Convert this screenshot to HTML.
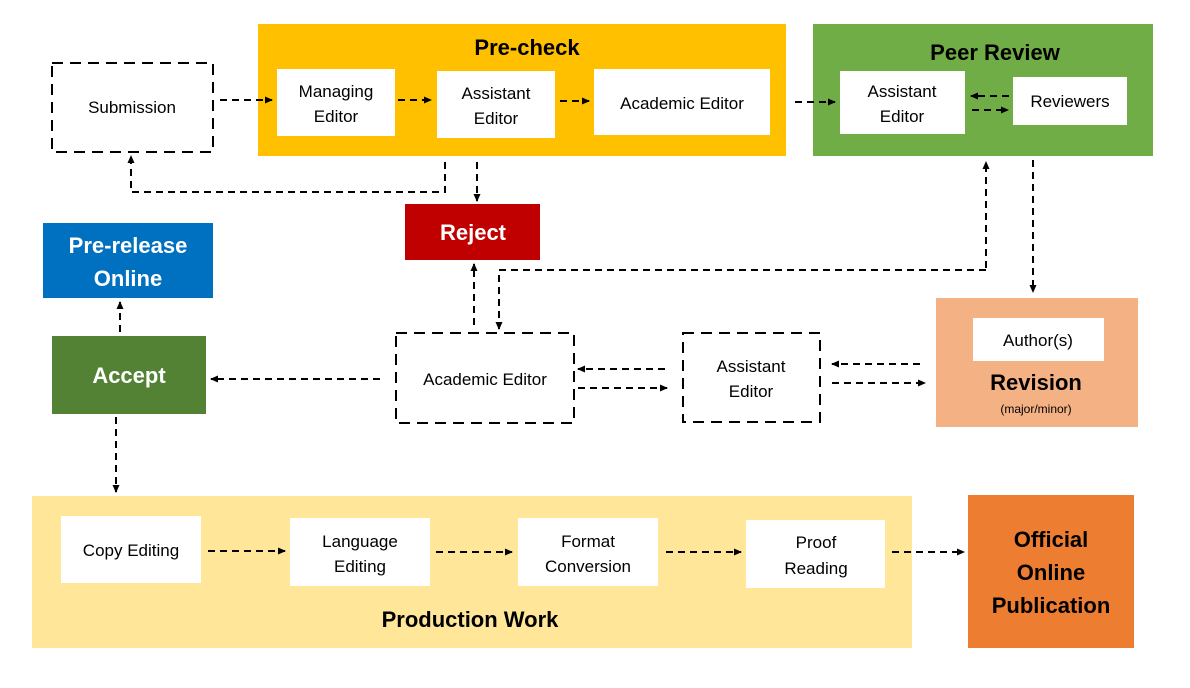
<!DOCTYPE html>
<html><head><meta charset="utf-8"><style>
html,body{margin:0;padding:0;background:#fff;}
svg{display:block;font-family:"Liberation Sans",sans-serif;}
.t{font-size:17px;fill:#000;text-anchor:middle;}
.b{font-weight:bold;text-anchor:middle;}
.d{stroke:#000;stroke-width:2;stroke-dasharray:7,5;fill:none;}
.bx{stroke:#000;stroke-width:2;stroke-dasharray:11,7;fill:#fff;}
</style></head><body>
<svg width="1190" height="688" viewBox="0 0 1190 688">
<defs><marker id="a" markerWidth="8" markerHeight="8" refX="7" refY="4" orient="auto" markerUnits="userSpaceOnUse"><path d="M0,0.5 L8,4 L0,7.5z" fill="#000"/></marker></defs>
<rect x="258" y="24" width="528" height="132" fill="#FFC000"/>
<text x="527" y="55" class="b" font-size="22">Pre-check</text>
<rect x="813" y="24" width="340" height="132" fill="#70AD47"/>
<text x="995" y="60" class="b" font-size="22">Peer Review</text>
<rect x="32" y="496" width="880" height="152" fill="#FFE699"/>
<text x="470" y="627" class="b" font-size="22">Production Work</text>
<rect x="936" y="298" width="202" height="129" fill="#F4B183"/>
<text x="1036" y="390" class="b" font-size="22">Revision</text>
<text x="1036" y="413" class="t" style="font-size:12px">(major/minor)</text>
<rect x="405" y="204" width="135" height="56" fill="#C00000"/>
<text x="473" y="240" class="b" font-size="22" fill="#fff">Reject</text>
<rect x="43" y="223" width="170" height="75" fill="#0070C0"/>
<text x="128" y="253" class="b" font-size="22" fill="#fff">Pre-release</text>
<text x="128" y="286" class="b" font-size="22" fill="#fff">Online</text>
<rect x="52" y="336" width="154" height="78" fill="#548235"/>
<text x="129" y="383" class="b" font-size="22" fill="#fff">Accept</text>
<rect x="968" y="495" width="166" height="153" fill="#ED7D31"/>
<text x="1051" y="547" class="b" font-size="22">Official</text>
<text x="1051" y="580" class="b" font-size="22">Online</text>
<text x="1051" y="613" class="b" font-size="22">Publication</text>
<rect x="277" y="69" width="118" height="67" fill="#fff"/>
<text x="336" y="97" class="t">Managing</text><text x="336" y="122" class="t">Editor</text>
<rect x="437" y="71" width="118" height="67" fill="#fff"/>
<text x="496" y="99" class="t">Assistant</text><text x="496" y="124" class="t">Editor</text>
<rect x="594" y="69" width="176" height="66" fill="#fff"/>
<text x="682" y="109" class="t">Academic Editor</text>
<rect x="840" y="71" width="125" height="63" fill="#fff"/>
<text x="902" y="97" class="t">Assistant</text><text x="902" y="122" class="t">Editor</text>
<rect x="1013" y="77" width="114" height="48" fill="#fff"/>
<text x="1070" y="107" class="t">Reviewers</text>
<rect x="973" y="318" width="131" height="43" fill="#fff"/>
<text x="1038" y="346" class="t">Author(s)</text>
<rect x="61" y="516" width="140" height="67" fill="#fff"/>
<text x="131" y="556" class="t">Copy Editing</text>
<rect x="290" y="518" width="140" height="68" fill="#fff"/>
<text x="360" y="547" class="t">Language</text><text x="360" y="572" class="t">Editing</text>
<rect x="518" y="518" width="140" height="68" fill="#fff"/>
<text x="588" y="547" class="t">Format</text><text x="588" y="572" class="t">Conversion</text>
<rect x="746" y="520" width="139" height="68" fill="#fff"/>
<text x="816" y="548" class="t">Proof</text><text x="816" y="574" class="t">Reading</text>
<rect x="52" y="63" width="161" height="89" class="bx"/>
<text x="132" y="113" class="t">Submission</text>
<rect x="396" y="333" width="178" height="90" class="bx"/>
<text x="485" y="385" class="t">Academic Editor</text>
<rect x="683" y="333" width="137" height="89" class="bx"/>
<text x="751" y="372" class="t">Assistant</text><text x="751" y="397" class="t">Editor</text>
<g class="d">
<path d="M220,100 H272" marker-end="url(#a)"/>
<path d="M398,100 H431" marker-end="url(#a)"/>
<path d="M560,101 H589" marker-end="url(#a)"/>
<path d="M795,102 H835" marker-end="url(#a)"/>
<path d="M1009,96 H971" marker-end="url(#a)"/>
<path d="M972,110 H1008" marker-end="url(#a)"/>
<path d="M445,162 V192 H131 V156" marker-end="url(#a)"/>
<path d="M477,162 V201" marker-end="url(#a)"/>
<path d="M986,268 V162" marker-end="url(#a)"/>
<path d="M986,270 H499 V329" marker-end="url(#a)"/>
<path d="M474,325 V264" marker-end="url(#a)"/>
<path d="M1033,160 V292" marker-end="url(#a)"/>
<path d="M920,364 H832" marker-end="url(#a)"/>
<path d="M832,383 H925" marker-end="url(#a)"/>
<path d="M665,369 H578" marker-end="url(#a)"/>
<path d="M578,388 H667" marker-end="url(#a)"/>
<path d="M380,379 H211" marker-end="url(#a)"/>
<path d="M120,332 V302" marker-end="url(#a)"/>
<path d="M116,417 V492" marker-end="url(#a)"/>
<path d="M208,551 H285" marker-end="url(#a)"/>
<path d="M436,552 H512" marker-end="url(#a)"/>
<path d="M666,552 H741" marker-end="url(#a)"/>
<path d="M892,552 H964" marker-end="url(#a)"/>
</g>
</svg>
</body></html>
